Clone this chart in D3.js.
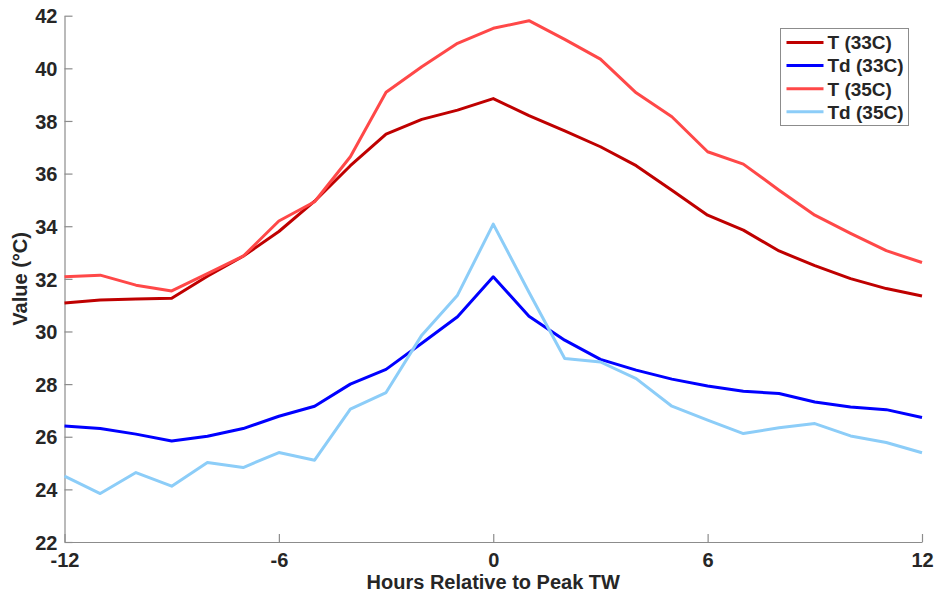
<!DOCTYPE html>
<html>
<head>
<meta charset="utf-8">
<script src="https://cdn.jsdelivr.net/npm/d3@7"></script>
<style>
  body { margin: 0; background: #fff; }
  text { font-family: "Liberation Sans", Arial, sans-serif; font-weight: bold; fill: #262626; }
</style>
</head>
<body>
<div id="chart"></div>
<script>
// hours relative to peak wet-bulb temperature
const hours = d3.range(-12, 13);

const tempLow  = [31.08, 31.2, 31.23, 31.26, 32.1, 32.86, 33.8, 34.95, 36.3, 37.5, 38.06, 38.41, 38.85,
                  38.2, 37.62, 37.02, 36.3, 35.37, 34.42, 33.85, 33.06, 32.5, 32.01, 31.63, 31.35];
const dewLow   = [26.41, 26.31, 26.1, 25.84, 26.02, 26.31, 26.78, 27.16, 28.0, 28.56, 29.55, 30.56, 32.08,
                  30.58, 29.67, 28.94, 28.53, 28.19, 27.93, 27.73, 27.64, 27.32, 27.13, 27.03, 26.73];
const tempHigh = [32.08, 32.14, 31.76, 31.54, 32.2, 32.86, 34.2, 34.93, 36.64, 39.09, 40.06, 40.95, 41.52,
                  41.81, 41.1, 40.35, 39.07, 38.16, 36.83, 36.36, 35.37, 34.42, 33.73, 33.07, 32.62];
const dewHigh  = [24.5, 23.84, 24.64, 24.12, 25.02, 24.83, 25.4, 25.11, 27.05, 27.68, 29.86, 31.38, 34.08,
                  31.49, 28.97, 28.84, 28.21, 27.16, 26.63, 26.12, 26.34, 26.5, 26.03, 25.78, 25.39];

const seriesNames  = ["T (33C)", "Td (33C)", "T (35C)", "Td (35C)"];
const seriesColors = ["#bf0000", "#0000ff", "#ff4848", "#8ccdf8"];
const seriesValues = [tempLow, dewLow, tempHigh, dewHigh];

const xTicks = [-12, -6, 0, 6, 12];
const yTicks = d3.range(22, 43, 2);

const W = 937, H = 598;
const margin = { top: 15.7, right: 15, bottom: 56, left: 64.5 };

const svg = d3.select("#chart").append("svg")
    .attr("width", W)
    .attr("height", H);

const x = d3.scaleLinear().domain([-12, 12]).range([margin.left, W - margin.right]);
const y = d3.scaleLinear().domain([22, 42]).range([H - margin.bottom, margin.top]);

// axes, ticks pointing inward like MATLAB; plain hyphen for negatives
const xAxis = svg.append("g")
    .attr("transform", `translate(0,${H - margin.bottom})`)
    .call(d3.axisBottom(x).tickValues(xTicks).tickFormat(d => String(d))
        .tickSizeInner(-8).tickSizeOuter(0).tickPadding(11));

const yAxis = svg.append("g")
    .attr("transform", `translate(${margin.left},0)`)
    .call(d3.axisLeft(y).tickValues(yTicks).tickFormat(d => String(d))
        .tickSizeInner(-8).tickSizeOuter(0).tickPadding(7));

[xAxis, yAxis].forEach(g => {
    g.select(".domain").attr("stroke", "#8c8c8c").attr("stroke-width", 1.2);
    g.selectAll(".tick line").attr("stroke", "#8c8c8c").attr("stroke-width", 1.2);
    g.selectAll(".tick text").attr("font-size", 20).attr("fill", "#262626")
        .attr("font-family", "Liberation Sans, Arial, sans-serif").attr("font-weight", "bold");
});
yAxis.selectAll(".tick text").attr("dy", "0.36em");
xAxis.selectAll(".tick text").attr("dy", "0.72em");

// series lines
const line = d3.line()
    .x((d, i) => x(hours[i]))
    .y(d => y(d));

svg.append("g")
    .selectAll("path")
    .data(seriesValues)
    .enter()
    .append("path")
    .attr("d", line)
    .attr("fill", "none")
    .attr("stroke", (d, i) => seriesColors[i])
    .attr("stroke-width", 3)
    .attr("stroke-linejoin", "round");

// axis labels
svg.append("text")
    .attr("x", x(0))
    .attr("y", 589)
    .attr("text-anchor", "middle")
    .attr("font-size", 20)
    .text("Hours Relative to Peak TW");

svg.append("text")
    .attr("transform", `translate(27,${(y(22) + y(42)) / 2}) rotate(-90)`)
    .attr("text-anchor", "middle")
    .attr("font-size", 20)
    .text("Value (°C)");

// legend
const legend = svg.append("g").attr("transform", "translate(780.5,28.5)");
legend.append("rect")
    .attr("width", 128)
    .attr("height", 97)
    .attr("fill", "#fff")
    .attr("stroke", "#8c8c8c")
    .attr("stroke-width", 1);

const rows = legend.selectAll("g.row")
    .data(seriesNames)
    .enter()
    .append("g")
    .attr("class", "row")
    .attr("transform", (d, i) => `translate(0,${14 + i * 23.1})`);

rows.append("line")
    .attr("x1", 6).attr("x2", 43)
    .attr("stroke", (d, i) => seriesColors[i])
    .attr("stroke-width", 3);

rows.append("text")
    .attr("x", 47)
    .attr("dy", "0.36em")
    .attr("font-size", 19)
    .text(d => d);
</script>
</body>
</html>
